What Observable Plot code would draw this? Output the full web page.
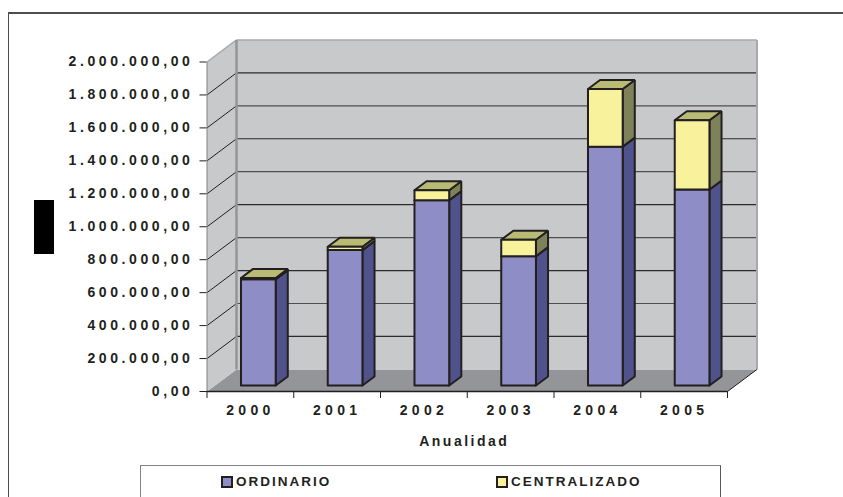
<!DOCTYPE html>
<html><head><meta charset="utf-8">
<script src="https://cdn.jsdelivr.net/npm/d3@7"></script>
<script src="https://cdn.jsdelivr.net/npm/@observablehq/plot@0.6"></script>
<style>
html,body{margin:0;padding:0;background:#fff;overflow:hidden;width:843px;height:497px}
#c{position:relative;width:843px;height:497px;overflow:hidden}
svg{display:block}
g[aria-label="y-axis tick label"] text{letter-spacing:3.6px}
.o{position:absolute;box-sizing:border-box}
.frame{left:8px;top:12px;width:835px;height:485px;border-top:2px solid #4d4d4f;border-left:1.5px solid #4d4d4f}
.blk{left:34px;top:200px;width:20px;height:54px;background:#000}
.leg{left:140px;top:465px;width:581px;height:40px;border:1.5px solid #808285;border-right-color:#58595b;background:#fff}
.sw{top:476px;width:12px;height:12px;border:2px solid #231f20}
.lt{top:474px;font:bold 13.5px 'Liberation Sans',Arial,sans-serif;letter-spacing:2px;color:#231f20;white-space:nowrap}
</style>
</head><body><div id="c"></div><script>
const years = ["2000","2001","2002","2003","2004","2005"];
const ordinario = [645000, 822000, 1125000, 785000, 1450000, 1190000];
const centralizado = [8000, 20000, 60000, 100000, 350000, 420000];
const yTicks = [0,200000,400000,600000,800000,1000000,1200000,1400000,1600000,1800000,2000000];
const legendNames = ["ORDINARIO","CENTRALIZADO"];
const axisTitle = "Anualidad";
const yMax = 2000000;

// oblique projection: depth d (0 front .. 1 back) offsets in data units
const DX = 0.34, DY = 134000;
const P = (x,y,d=0)=>({x:x+d*DX, y:y+d*DY});
const polys = [];
function poly(fill,pts,stroke="none",sw=0){ polys.push({fill,stroke,sw,pts:[...pts,pts[0]]}); }

poly("#939598",[P(0,0,0),P(6,0,0),P(6,0,1),P(0,0,1)]);
poly("#c8c9cb",[P(0,0,0),P(0,0,1),P(0,yMax,1),P(0,yMax,0)]);
poly("#c8c9cb",[P(0,0,1),P(6,0,1),P(6,yMax,1),P(0,yMax,1)]);
const nBg = polys.length;

const segs = [];
const seg=(a,b,stroke,sw)=>segs.push({stroke,sw,a,b});
yTicks.slice(1,-1).forEach((t,i)=>{
  seg(P(0,t,0),P(0,t,1),"#231f20",1);
  seg(P(0,t,1),P(6,t,1),i%2?"#4f4f52":"#2b2b2d",1.2);
});
seg(P(0,yMax,0),P(0,yMax,1),"#a7a9ac",1.5);
seg(P(0,yMax,1),P(6,yMax,1),"#a7a9ac",1.5);
seg(P(0,0,1),P(0,yMax,1),"#939598",2.5);
seg(P(6,0,1),P(6,yMax,1),"#a7a9ac",2);
seg(P(0,0,0),P(0,yMax,0),"#808285",1);
seg(P(6,0,0),P(6,0,1),"#231f20",1);

const barW = 0.4, d0 = 0.27, d1 = 0.68, ink="#231f20", bw=2;
const box=(i,lo,hi,cF,cS,cT)=>{
  const a=i+0.5-barW/2, b=i+0.5+barW/2;
  poly(cS,[P(b,lo,d0),P(b,lo,d1),P(b,hi,d1),P(b,hi,d0)],ink,bw);
  poly(cT,[P(a,hi,d0),P(b,hi,d0),P(b,hi,d1),P(a,hi,d1)],ink,bw);
  poly(cF,[P(a,lo,d0),P(b,lo,d0),P(b,hi,d0),P(a,hi,d0)],ink,bw);
};
years.forEach((y,i)=>{
  box(i,0,ordinario[i],"#8f8dc6","#50538b","#50538b");
  box(i,ordinario[i],ordinario[i]+centralizado[i],"#f7f29b","#7e8258","#b9bb74");
});

const fmt = v => d3.format(",.2f")(v).replace(/,/g,"#").replace(".",",").replace(/#/g,".");
const textStyle = {fontFamily:"'Liberation Sans',Arial,sans-serif",fontWeight:"bold",fill:"#231f20"};
const polyMark = p => Plot.line(p.pts,{x:"x",y:"y",fill:p.fill,stroke:p.stroke,strokeWidth:p.sw,strokeLinejoin:"miter",curve:"linear"});

const chart = Plot.plot({
  width:843,height:497,marginTop:0,marginBottom:0,marginLeft:0,marginRight:0,
  style:{background:"transparent"},
  x:{type:"linear",domain:[0,6],range:[206.5,727],axis:null,label:null},
  y:{type:"linear",domain:[0,yMax],range:[391,61.5],axis:null,label:null},
  marks:[
    ...polys.slice(0,nBg).map(polyMark),
    Plot.link(segs,{x1:d=>d.a.x,y1:d=>d.a.y,x2:d=>d.b.x,y2:d=>d.b.y,stroke:"stroke",strokeWidth:"sw"}),
    ...polys.slice(nBg).map(polyMark),
    Plot.ruleY([0],{x1:0,x2:6,stroke:"#231f20",strokeWidth:1.5}),
    Plot.axisY(yTicks,{anchor:"left",x:0,label:null,tickSize:7,tickPadding:6.5,tickFormat:fmt,fontSize:14,...textStyle,stroke:"#231f20"}),
    Plot.axisX(d3.range(0,7),{anchor:"bottom",y:0,label:null,tickSize:7,tickPadding:0,tickFormat:()=>"",stroke:"#231f20"}),
    Plot.text(years,{x:(d,i)=>i+0.5,y:0,text:d=>d,dy:19.5,dx:0,fontSize:14,...textStyle}),
    Plot.text([axisTitle],{x:3,y:0,dy:50,dx:-3,fontSize:14,...textStyle})
  ]
});
d3.select(chart).selectAll("text").each(function(){
  const t=this.textContent;
  if(years.includes(t)) this.style.letterSpacing="4.3px";
  if(t===axisTitle) this.style.letterSpacing="2.5px";
});
const host=document.getElementById("c");
host.appendChild(chart);
const add=(cls,css,txt)=>{const e=document.createElement("div");e.className="o "+cls;if(css)e.style.cssText=css;if(txt)e.textContent=txt;host.appendChild(e);};
add("frame");add("blk");add("leg");
add("sw","left:221px;background:#8f8dc6");
add("lt","left:236px",legendNames[0]);
add("sw","left:496px;background:#f7f29b");
add("lt","left:511px",legendNames[1]);
</script></body></html>
